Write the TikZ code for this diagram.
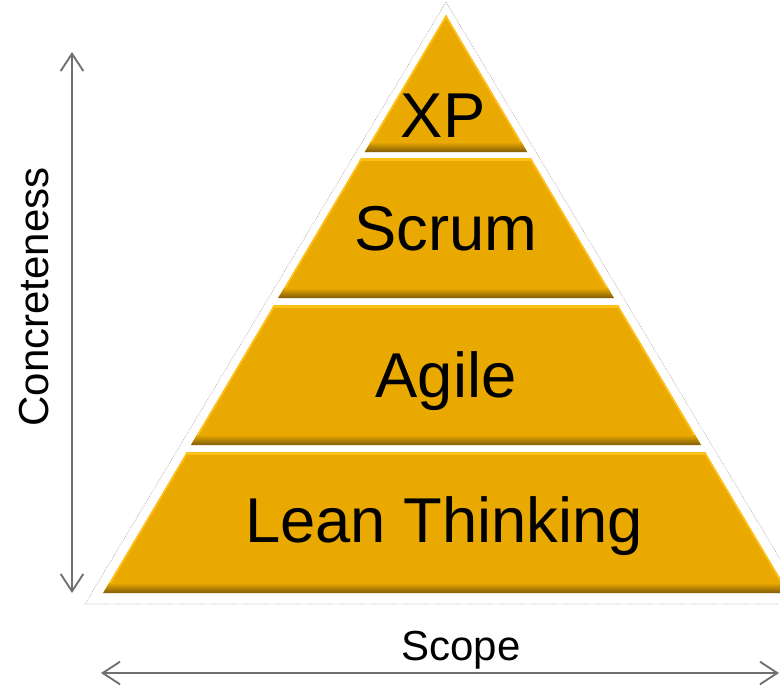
\documentclass[tikz,border=0pt]{standalone}
\usepackage{fontspec}
\setmainfont{Liberation Sans}
\usetikzlibrary{arrows.meta}

\definecolor{pyrgold}{RGB}{233,169,0}
\definecolor{pyrlight}{RGB}{255,192,24}
\definecolor{pyrdark}{RGB}{128,92,8}
\definecolor{axisgray}{RGB}{112,112,112}

\tikzset{
  layertext/.style={inner sep=0.75pt, anchor=base, font=\fontsize{47.5}{52}\selectfont},
  axistext/.style={inner sep=0.75pt, anchor=base, font=\fontsize{31.5}{36}\selectfont},
  axisarrow/.style={draw=axisgray, line width=1.4pt,
    {Straight Barb[length=13pt,width=17pt]}-{Straight Barb[length=13pt,width=17pt]}},
}

% one bevelled layer: #1 top y, #2..#3 top left/right x, #4 bottom y, #5..#6 bottom left/right x
\newcommand{\pyrlayer}[6]{
  \begin{scope}
    \clip (#2,#1) -- (#3,#1) -- (#6,#4) -- (#5,#4) -- cycle;
    \fill [pyrgold] (#5,#1) rectangle (#6,#4);
    \fill [pyrlight] (#5,#1) rectangle (#6,#1+3);
    \draw [pyrlight, line width=2.5pt] (#2,#1) -- (#5,#4);
    \draw [pyrlight, line width=2.5pt] (#3,#1) -- (#6,#4);
    \shade [top color=pyrgold, bottom color=pyrdark] (#5,#4-10) rectangle (#6,#4);
  \end{scope}
}

\begin{document}
\begin{tikzpicture}[x=0.75pt,y=0.75pt,yscale=-1,xscale=1]
\useasboundingbox (0,0) rectangle (780,685);

%Shape: outer shadow triangle
\draw [draw=gray!60, line width=0.6pt, densely dotted, fill=white] (446,2) -- (85,604) -- (807,604) -- cycle ;

%Shape: layers, top to bottom
\pyrlayer{15}{446}{446}{152}{364.8}{527.2}
\pyrlayer{158}{361.2}{530.8}{298}{278.2}{613.8}
\pyrlayer{305}{274.0}{618.0}{445}{191.0}{701.0}
\pyrlayer{452}{186.9}{705.1}{593}{103.2}{788.8}

% Text Node
\node [layertext] (xp) at (443,137) {XP};
% Text Node
\node [layertext] (scrum) at (446,250) {Scrum};
% Text Node
\node [layertext] (agile) at (446,397) {Agile};
% Text Node
\node [layertext] (lean) at (444,542) {Lean Thinking};

%Axis: concreteness
\coordinate (ctop) at (72,52);
\coordinate (cbot) at (72,593);
\draw [axisarrow] (cbot) -- (ctop);
\node [axistext, rotate=90] (concrete) at (48,297) {Concreteness};

%Axis: scope
\coordinate (sleft) at (101,673);
\coordinate (sright) at (779,673);
\draw [axisarrow] (sleft) -- (sright);
\node [axistext] (scope) at (461,660) {Scope};

\end{tikzpicture}
\end{document}
